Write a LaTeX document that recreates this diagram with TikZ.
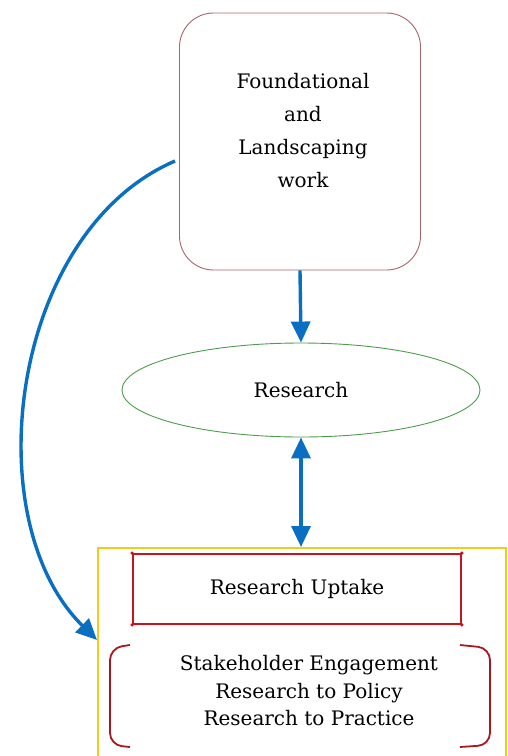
\documentclass[tikz,border=0pt]{standalone}
\usepackage{fontspec}
\setmainfont{DejaVu Serif}
\usetikzlibrary{arrows.meta,shapes.geometric}
\definecolor{boxrose}{HTML}{A8646C}
\definecolor{arrblue}{HTML}{0A6FC2}
\definecolor{ellgreen}{HTML}{4E9A4E}
\definecolor{outyellow}{HTML}{F0CC20}
\definecolor{upred}{HTML}{C8141E}
\definecolor{brred}{HTML}{A81820}
\tikzset{
  lbl/.style={font=\fontsize{20}{33}\selectfont, align=center, text=black},
  tip/.style={Triangle[length=21pt,width=19pt]},
  conn/.style={draw=arrblue, line width=3.4pt, -{Triangle[length=21pt,width=19pt]}},
  dconn/.style={draw=arrblue, line width=3.4pt, {Triangle[length=21pt,width=19pt]}-{Triangle[length=21pt,width=19pt]}},
}
\begin{document}
\begin{tikzpicture}[x=1pt,y=-1pt]
\useasboundingbox (0,0) rectangle (507,756);
% foundational box
\node[draw=boxrose, line width=0.9pt, rounded corners=34pt, minimum width=241pt, minimum height=257pt] (fnd) at (300,141.5) {};
\node[lbl] (fndtxt) at (303,131) {Foundational\\and\\Landscaping\\work};
% research ellipse
\node[ellipse, draw=ellgreen, line width=0.9pt, minimum width=358pt, minimum height=94pt, lbl] (res) at (301,390) {Research};
% outer yellow box
\node[draw=outyellow, line width=1.5pt, minimum width=408pt, minimum height=214pt, anchor=north west, inner sep=0pt] (outer) at (97,547) {};
% research uptake box
\node[draw=upred, line width=1.8pt, minimum width=328pt, minimum height=70pt, lbl] (upt) at (297,589) {Research Uptake};
\foreach \c in {north west,north east,south west,south east}
  \fill[upred] (upt.\c) circle (1.8pt);
% engagement text
\node[lbl, font=\fontsize{20}{27.5}\selectfont] (eng) at (309,691) {Stakeholder Engagement\\Research to Policy\\Research to Practice};
% brackets
\draw[brred, line width=1.8pt, rounded corners=12pt] (130,645) -- (110,648) -- (110,745) -- (130,747);
\draw[brred, line width=1.8pt, rounded corners=12pt] (460,645) -- (490,648) -- (490,745) -- (460,747);
% connectors
\draw[conn] (fnd.south) -- (res.north);
\draw[dconn] (res.south) -- (res.south |- outer.north);
\coordinate (cs) at (175,161);
\coordinate (ce) at (97,640);
\draw[conn] (cs) .. controls (10,232) and (-25,520) .. (ce);
\end{tikzpicture}
\end{document}
